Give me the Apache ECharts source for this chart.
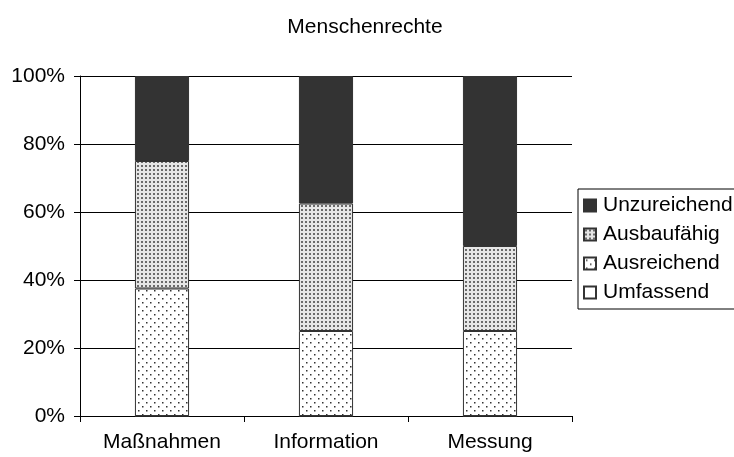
<!DOCTYPE html>
<html>
<head>
<meta charset="utf-8">
<script src="https://cdn.jsdelivr.net/npm/echarts@6/dist/echarts.min.js"></script>
<style>
  html, body { margin: 0; padding: 0; background: #fff; }
  #chart { width: 734px; height: 457px; }
</style>
</head>
<body>
<div id="chart"></div>
<script>
  const categories = ['Maßnahmen', 'Information', 'Messung'];
  const umfassend = [0, 0, 0];
  const ausreichend = [37.5, 25, 25];
  const ausbaufaehig = [37.5, 37.5, 25];
  const unzureichend = [25, 37.5, 50];
  const yTicks = [0, 20, 40, 60, 80, 100];

  // fill patterns
  function sparseDots() {
    const c = document.createElement('canvas');
    c.width = 8; c.height = 8;
    const ctx = c.getContext('2d');
    ctx.fillStyle = '#fff';
    ctx.fillRect(0, 0, 8, 8);
    ctx.fillStyle = '#333';
    ctx.fillRect(2, 2, 1.5, 1.5);
    ctx.fillRect(6, 6, 1.5, 1.5);
    return c;
  }
  function denseDots() {
    const c = document.createElement('canvas');
    c.width = 4; c.height = 4;
    const ctx = c.getContext('2d');
    ctx.fillStyle = '#e6e6e6';
    ctx.fillRect(0, 0, 4, 4);
    ctx.fillStyle = '#6a6a6a';
    ctx.fillRect(1, 1, 2, 2);
    return c;
  }

  const chart = echarts.init(document.getElementById('chart'));
  const font = 'Liberation Sans';
  const border = { borderColor: '#333', borderWidth: 1 };

  const option = {
    animation: false,
    title: {
      text: 'Menschenrechte',
      left: 360,
      textAlign: 'center',
      top: 12,
      textStyle: { fontFamily: font, fontSize: 21, fontWeight: 'normal', color: '#000' }
    },
    legend: {
      orient: 'vertical',
      left: 578,
      top: 189,
      padding: [6, 80, 6, 5],
      borderColor: '#000',
      borderWidth: 1,
      itemGap: 8,
      itemWidth: 12,
      itemHeight: 12,
      icon: 'rect',
      data: ['Unzureichend', 'Ausbaufähig', 'Ausreichend', 'Umfassend'],
      textStyle: { fontFamily: font, fontSize: 21, color: '#000', lineHeight: 20, padding: [0, 0, 0, 2] }
    },
    grid: { left: 80, right: 162, top: 76, bottom: 41 },
    xAxis: {
      type: 'category',
      data: categories,
      axisLine: { lineStyle: { color: '#000', width: 1 } },
      axisTick: { show: true, length: 6, lineStyle: { color: '#000' } },
      axisLabel: { fontFamily: font, fontSize: 21, color: '#000', margin: 16 }
    },
    yAxis: {
      type: 'value',
      min: 0,
      max: 100,
      interval: 20,
      axisLine: { show: true, lineStyle: { color: '#000', width: 1 } },
      axisTick: { show: true, length: 6, lineStyle: { color: '#000' } },
      axisLabel: {
        fontFamily: font, fontSize: 21, color: '#000', margin: 15,
        formatter: function (v) { return yTicks.indexOf(v) >= 0 ? v + '%' : ''; }
      },
      splitLine: { show: true, lineStyle: { color: '#000', width: 1 } }
    },
    series: [
      {
        name: 'Umfassend', type: 'bar', stack: 'total', barWidth: '33%',
        data: umfassend,
        itemStyle: Object.assign({ color: '#fff' }, border)
      },
      {
        name: 'Ausreichend', type: 'bar', stack: 'total', barWidth: '33%',
        data: ausreichend,
        itemStyle: Object.assign({ color: { image: sparseDots(), repeat: 'repeat' } }, border)
      },
      {
        name: 'Ausbaufähig', type: 'bar', stack: 'total', barWidth: '33%',
        data: ausbaufaehig,
        itemStyle: Object.assign({ color: { image: denseDots(), repeat: 'repeat' } }, border)
      },
      {
        name: 'Unzureichend', type: 'bar', stack: 'total', barWidth: '33%',
        data: unzureichend,
        itemStyle: Object.assign({ color: '#333' }, border)
      }
    ]
  };
  chart.setOption(option);
</script>
</body>
</html>
